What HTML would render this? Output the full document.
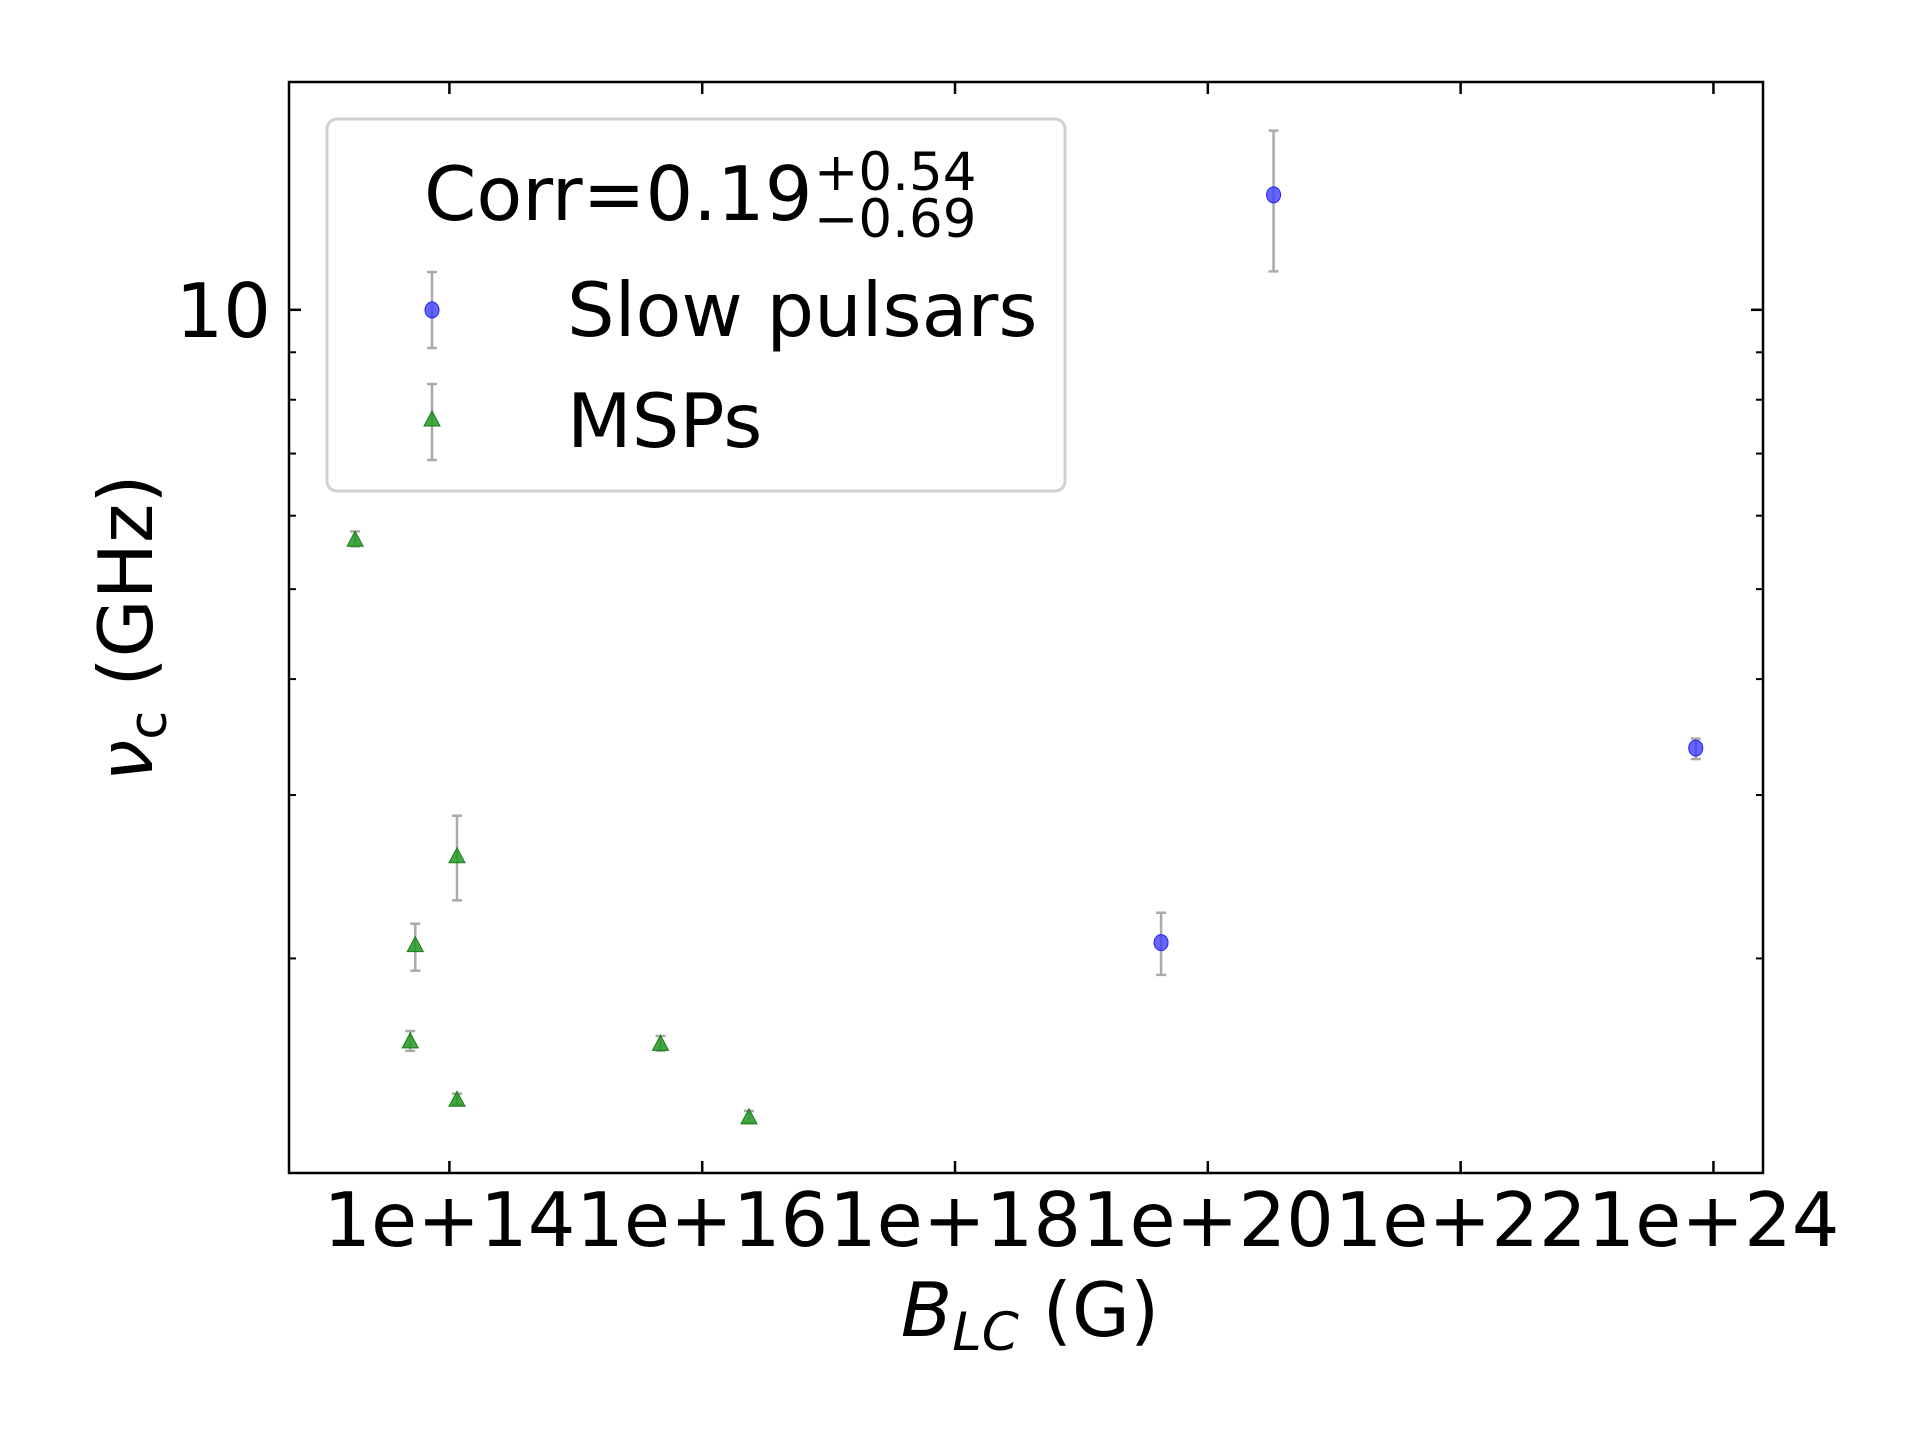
<!DOCTYPE html>
<html><head><meta charset="utf-8"><style>
html,body{margin:0;padding:0;background:#fff;}
svg{display:block;font-family:"DejaVu Sans","Liberation Sans",sans-serif;}
</style></head><body>
<svg id="chart" width="1920" height="1440" viewBox="0 0 1920 1440">
<rect x="0" y="0" width="1920" height="1440" fill="#fff"/>
<g id="plot"></g>
<rect x="289" y="82" width="1474" height="1091" fill="none" stroke="#000" stroke-width="2.5"/>
<text x="1030" y="1336" font-size="75" text-anchor="middle"><tspan font-style="italic">B</tspan><tspan font-style="italic" font-size="53" dy="14">LC</tspan><tspan dy="-14"> (G)</tspan></text>
<text transform="translate(152,628) rotate(-90)" font-size="75" text-anchor="middle"><tspan font-style="italic">ν</tspan><tspan font-size="53" dy="14">c</tspan><tspan dy="-14"> (GHz)</tspan></text>
<g>
<rect x="327" y="119" width="738" height="372" rx="10" fill="#fff" fill-opacity="0.8" stroke="#d0d0d0" stroke-width="3"/>
<text x="424" y="220" font-size="75">Corr=0.19</text>
<text x="814" y="190" font-size="53">+0.54</text>
<text x="814" y="237" font-size="53">−0.69</text>
<g>
<line x1="432" y1="272" x2="432" y2="348" stroke="#aaa" stroke-width="2.5"/>
<line x1="427" y1="272" x2="437" y2="272" stroke="#aaa" stroke-width="2.5"/>
<line x1="427" y1="348" x2="437" y2="348" stroke="#aaa" stroke-width="2.5"/>
<ellipse cx="432" cy="310" rx="7" ry="8" fill="#4040ff" fill-opacity="0.8" stroke="#2020ff"/>
<text x="567" y="336" font-size="75">Slow pulsars</text>
</g>
<g>
<line x1="432" y1="384" x2="432" y2="460" stroke="#aaa" stroke-width="2.5"/>
<line x1="427" y1="384" x2="437" y2="384" stroke="#aaa" stroke-width="2.5"/>
<line x1="427" y1="460" x2="437" y2="460" stroke="#aaa" stroke-width="2.5"/>
<polygon points="432,411 440,426 424,426" fill="#229922" fill-opacity="0.85" stroke="#1a7a1a"/>
<text x="567" y="447" font-size="75">MSPs</text>
</g>
</g>
</svg>
<script>
const slowLogB = [19.63, 20.52, 23.86];
const slowNu = [2.08, 13.3, 3.37];
const slowLo = [1.92, 11.0, 3.28];
const slowHi = [2.24, 15.6, 3.45];
const mspLogB = [13.254, 13.69, 13.73, 14.06, 14.06, 15.67, 16.37];
const mspNu = [5.66, 1.63, 2.07, 2.58, 1.41, 1.62, 1.35];
const mspLo = [5.56, 1.59, 1.94, 2.31, 1.39, 1.59, 1.33];
const mspHi = [5.77, 1.67, 2.18, 2.85, 1.43, 1.65, 1.37];
const xTickExp = [14, 16, 18, 20, 22, 24];
const xTickLabels = ["1e+14", "1e+16", "1e+18", "1e+20", "1e+22", "1e+24"];
const yMajor = [10];
const yMajorLabels = ["10"];
const yMinor = [2, 3, 4, 5, 6, 7, 8, 9];

const L=289,R=1763,T=82,B=1173;
const xMin=12.731,xMax=24.392,yMin=0.0698,yMax=1.2455;
function xs(lb){return L+(lb-xMin)/(xMax-xMin)*(R-L);}
function ys(v){return B-(Math.log10(v)-yMin)/(yMax-yMin)*(B-T);}
const NS="http://www.w3.org/2000/svg";
const g=document.getElementById('plot');
function mk(tag,attrs){const e=document.createElementNS(NS,tag);for(const k in attrs)e.setAttribute(k,attrs[k]);g.appendChild(e);return e;}

xTickExp.forEach((e,i)=>{
  const x=xs(e);
  const t1=mk('line',{x1:x,y1:B,x2:x,y2:B-12,stroke:'#000','stroke-width':2.5});
  
  
  const t2=mk('line',{x1:x,y1:T,x2:x,y2:T+12,stroke:'#000','stroke-width':2.5});
  
  
  const tx=mk('text',{x:x,y:1246,'font-size':75,'text-anchor':'middle'});
  tx.textContent=xTickLabels[i];
  
  
});
yMajor.forEach((v,i)=>{
  const y=ys(v);
  const a=mk('line',{x1:L,y1:y,x2:L+12,y2:y,stroke:'#000','stroke-width':2.5});
  
  
  const b=mk('line',{x1:R,y1:y,x2:R-12,y2:y,stroke:'#000','stroke-width':2.5});
  
  
  const tx=mk('text',{x:271,y:y+27,'font-size':75,'text-anchor':'end'});
  tx.textContent=yMajorLabels[i];
  
  
});
yMinor.forEach(v=>{
  const y=ys(v);
  const a=mk('line',{x1:L,y1:y,x2:L+7,y2:y,stroke:'#000','stroke-width':2});
  
  
  const b=mk('line',{x1:R,y1:y,x2:R-7,y2:y,stroke:'#000','stroke-width':2});
  
  
});
function errbar(x,lo,hi,name){
  const y1=ys(hi),y2=ys(lo);
  const l=mk('line',{x1:x,y1:y1,x2:x,y2:y2,stroke:'#aaa','stroke-width':2.5});
  
  
  mk('line',{x1:x-5,y1:y1,x2:x+5,y2:y1,stroke:'#aaa','stroke-width':2.5});
  mk('line',{x1:x-5,y1:y2,x2:x+5,y2:y2,stroke:'#aaa','stroke-width':2.5});
}
mspLogB.forEach((lb,i)=>{
  const x=xs(lb),y=ys(mspNu[i]);
  errbar(x,mspLo[i],mspHi[i],'msp-error-bar');
  const p=mk('polygon',{points:`${x},${y-8} ${x+8},${y+7} ${x-8},${y+7}`,fill:'#229922','fill-opacity':0.85,stroke:'#1a7a1a'});
  
  
});
slowLogB.forEach((lb,i)=>{
  const x=xs(lb),y=ys(slowNu[i]);
  errbar(x,slowLo[i],slowHi[i],'slow-pulsar-error-bar');
  const c=mk('ellipse',{cx:x,cy:y,rx:7,ry:8,fill:'#4040ff','fill-opacity':0.8,stroke:'#2020ff'});
  
  
});
</script>
</body></html>
